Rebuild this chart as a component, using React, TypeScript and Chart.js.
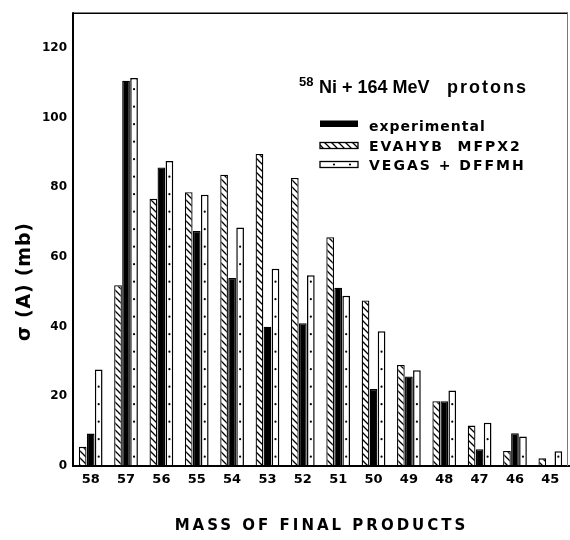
import React, { useEffect, useRef } from 'react';
import { Chart, registerables } from 'chart.js';

Chart.register(...registerables);

// ---- data ----
const categories = ['58', '57', '56', '55', '54', '53', '52', '51', '50', '49', '48', '47', '46', '45'];
const experimental = [9.3, 110.6, 85.7, 67.5, 54, 40, 41, 51.2, 22.1, 25.7, 18.6, 4.8, 9.4, null];
const evahyb = [5.5, 51.9, 76.7, 78.6, 83.6, 89.6, 82.7, 65.7, 47.5, 29, 18.6, 11.6, 4.3, 2.2];
const vegas = [27.7, 111.4, 87.6, 77.9, 68.5, 56.6, 54.8, 48.9, 38.7, 27.5, 21.7, 12.4, 8.5, 4.2];
const yTicks = [0, 20, 40, 60, 80, 100, 120];
const seriesNames = ['experimental', 'EVAHYB  MFPX2', 'VEGAS + DFFMH'];
const titleSup = '58';
const titleMain = 'Ni + 164 MeV';
const titleTail = 'protons';
const xTitle = 'MASS OF FINAL PRODUCTS';
const yTitle = 'σ (A) (mb)';

const DJ = '"DejaVu Sans", sans-serif';
const LB = '"Liberation Sans", Arial, sans-serif';

function makeHatch(): CanvasPattern {
  const s = 7;
  const c = document.createElement('canvas');
  c.width = s;
  c.height = s;
  const g = c.getContext('2d')!;
  g.fillStyle = '#fff';
  g.fillRect(0, 0, s, s);
  g.strokeStyle = '#000';
  g.lineWidth = 1.3;
  g.beginPath();
  g.moveTo(-1, -1);
  g.lineTo(s + 1, s + 1);
  g.moveTo(-1, s - 1);
  g.lineTo(1, s + 1);
  g.moveTo(s - 1, -1);
  g.lineTo(s + 1, 1);
  g.stroke();
  return g.createPattern(c, 'repeat')!;
}

function txt(
  ctx: CanvasRenderingContext2D,
  s: string,
  x: number,
  y: number,
  font: string,
  align: CanvasTextAlign = 'left',
  spacing = 0
) {
  ctx.save();
  ctx.font = font;
  ctx.fillStyle = '#000';
  ctx.textAlign = align;
  ctx.textBaseline = 'alphabetic';
  try {
    (ctx as any).letterSpacing = spacing + 'px';
  } catch (e) {}
  const dx = align === 'center' ? spacing / 2 : 0;
  ctx.fillText(s, x + dx, y);
  ctx.restore();
}

function dot(ctx: CanvasRenderingContext2D, x: number, y: number) {
  ctx.beginPath();
  ctx.arc(x, y, 1.1, 0, Math.PI * 2);
  ctx.fill();
}

export default function App() {
  const ref = useRef<HTMLCanvasElement | null>(null);

  useEffect(() => {
    if (!ref.current) return;
    const hatch = makeHatch();

    const decor = {
      id: 'decor',
      afterDatasetsDraw(chart: any) {
        const ctx: CanvasRenderingContext2D = chart.ctx;
        const meta = chart.getDatasetMeta(2);
        ctx.save();
        ctx.fillStyle = '#000';
        meta.data.forEach((el: any) => {
          const p = el.getProps(['x', 'y', 'base'], true);
          for (let py = p.base - 9.3; py > p.y + 4; py -= 17.5) dot(ctx, p.x, py);
        });
        ctx.restore();
      },
      afterDraw(chart: any) {
        const ctx: CanvasRenderingContext2D = chart.ctx;
        const a = chart.chartArea;
        ctx.save();
        ctx.strokeStyle = '#000';
        // left axis
        ctx.lineWidth = 2;
        ctx.beginPath();
        ctx.moveTo(a.left, a.top - 1);
        ctx.lineTo(a.left, a.bottom + 1);
        ctx.stroke();
        // bottom axis
        ctx.beginPath();
        ctx.moveTo(a.left - 1, a.bottom);
        ctx.lineTo(a.right + 2, a.bottom);
        ctx.stroke();
        // top
        ctx.lineWidth = 1.5;
        ctx.beginPath();
        ctx.moveTo(a.left, a.top);
        ctx.lineTo(a.right, a.top);
        ctx.stroke();
        // right (faint)
        ctx.lineWidth = 1;
        ctx.strokeStyle = '#777';
        ctx.beginPath();
        ctx.moveTo(a.right - 0.5, a.top);
        ctx.lineTo(a.right - 0.5, a.bottom);
        ctx.stroke();
        ctx.restore();

        // legend title
        txt(ctx, titleSup, 299, 86, 'bold 13px ' + LB);
        txt(ctx, titleMain, 319, 93, 'bold 18px ' + LB);
        txt(ctx, titleTail, 447, 93, 'bold 18px ' + LB, 'left', 2);

        // legend entries
        const bx0 = 320;
        const bw = 38;
        const rows = [
          { top: 120.5, h: 6.5, base: 131, sp: 1 },
          { top: 142.5, h: 6, base: 151, sp: 2 },
          { top: 161.5, h: 6, base: 170, sp: 2 },
        ];
        ctx.save();
        ctx.fillStyle = '#000';
        ctx.fillRect(bx0, rows[0].top, bw, rows[0].h);
        ctx.fillStyle = hatch;
        ctx.fillRect(bx0, rows[1].top, bw, rows[1].h);
        ctx.strokeStyle = '#000';
        ctx.lineWidth = 1.3;
        ctx.strokeRect(bx0, rows[1].top, bw, rows[1].h);
        ctx.fillStyle = '#fff';
        ctx.fillRect(bx0, rows[2].top, bw, rows[2].h);
        ctx.strokeRect(bx0, rows[2].top, bw, rows[2].h);
        ctx.fillStyle = '#000';
        dot(ctx, bx0 + 14, rows[2].top + rows[2].h / 2);
        dot(ctx, bx0 + 30, rows[2].top + rows[2].h / 2);
        ctx.restore();
        seriesNames.forEach((n, i) => txt(ctx, n, 369, rows[i].base, 'bold 14px ' + DJ, 'left', rows[i].sp));

        // axis titles
        txt(ctx, xTitle, 320, 530, 'bold 15px ' + DJ, 'center', 3);
        ctx.save();
        ctx.translate(30, 282);
        ctx.rotate(-Math.PI / 2);
        txt(ctx, yTitle, 0, 0, 'bold 19px ' + DJ, 'center', 0.8);
        ctx.restore();
      },
    };

    const chart = new Chart(ref.current, {
      type: 'bar',
      data: {
        labels: categories,
        datasets: [
          {
            label: seriesNames[1],
            data: evahyb,
            backgroundColor: hatch as any,
            borderColor: '#000',
            borderWidth: 1.3,
          },
          {
            label: seriesNames[0],
            data: experimental as any,
            backgroundColor: '#000',
            borderColor: '#000',
            borderWidth: 1.3,
          },
          {
            label: seriesNames[2],
            data: vegas,
            backgroundColor: '#fff',
            borderColor: '#000',
            borderWidth: 1.5,
          },
        ],
      },
      options: {
        animation: false,
        responsive: true,
        maintainAspectRatio: false,
        layout: { padding: { top: 7, right: 2, left: 0, bottom: 0 } },
        datasets: { bar: { categoryPercentage: 0.68, barPercentage: 0.96 } },
        plugins: {
          legend: { display: false },
          tooltip: { enabled: false },
          title: { display: false },
        },
        scales: {
          x: {
            grid: { display: false, drawTicks: false },
            border: { display: false },
            ticks: {
              color: '#000',
              font: { family: 'DejaVu Sans', size: 13, weight: 'bold' },
              padding: 6,
              maxRotation: 0,
              autoSkip: false,
            },
            afterFit: (s: any) => {
              s.height = 74;
            },
          },
          y: {
            min: 0,
            max: 130,
            grid: { display: false, drawTicks: false },
            border: { display: false },
            ticks: {
              color: '#000',
              font: { family: 'DejaVu Sans', size: 12, weight: 'bold' },
              padding: 6,
            },
            afterBuildTicks: (s: any) => {
              s.ticks = yTicks.map((v) => ({ value: v }));
            },
            afterFit: (s: any) => {
              s.width = 73;
            },
          },
        },
      },
      plugins: [decor],
    });
    return () => chart.destroy();
  }, []);

  return (
    <div style={{ position: 'fixed', left: 0, top: 0, width: 570, height: 540, background: '#fff' }}>
      <canvas ref={ref} />
    </div>
  );
}
